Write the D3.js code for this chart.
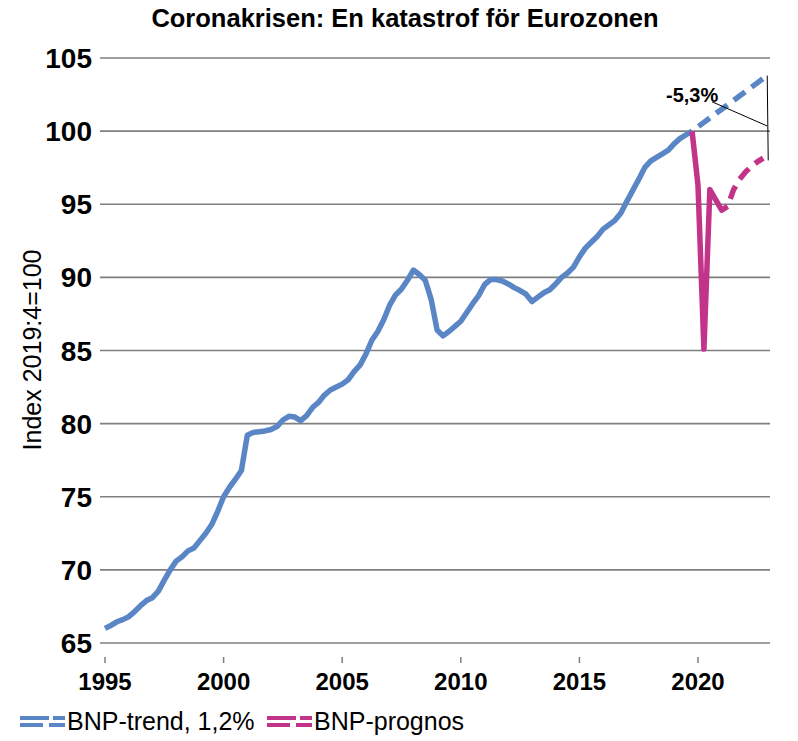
<!DOCTYPE html>
<html>
<head>
<meta charset="utf-8">
<script src="https://cdn.jsdelivr.net/npm/d3@7"></script>
<style>
  body { margin: 0; background: #fff; }
  svg text { font-family: "Liberation Sans", Arial, sans-serif; }
</style>
</head>
<body>
<div id="viz-body"></div>
<script>
// quarterly index, 1995Q1 .. 2019Q4 (2019:4 = 100)
const bnpHistory = [
    66.0, 66.2, 66.45, 66.6, 66.8, 67.15, 67.55, 67.9, 68.1, 68.55,
    69.3, 70.0, 70.6, 70.9, 71.3, 71.5, 72.0, 72.5, 73.1, 74.0,
    75.0, 75.65, 76.2, 76.8, 79.2, 79.4, 79.45, 79.5, 79.6, 79.8,
    80.25, 80.5, 80.45, 80.2, 80.55, 81.1, 81.45, 81.95, 82.3, 82.5,
    82.7, 83.0, 83.55, 84.0, 84.75, 85.7, 86.3, 87.1, 88.1, 88.8,
    89.2, 89.8, 90.5, 90.2, 89.8, 88.5, 86.4, 86.0, 86.3, 86.65,
    87.0, 87.6, 88.2, 88.75, 89.5, 89.85, 89.85, 89.75, 89.55, 89.3,
    89.1, 88.85, 88.35, 88.65, 88.95, 89.15, 89.55, 90.0, 90.3, 90.7,
    91.4, 92.0, 92.4, 92.8, 93.3, 93.6, 93.9, 94.4, 95.2, 95.95,
    96.7, 97.5, 97.95, 98.2, 98.45, 98.7, 99.15, 99.5, 99.75, 100.0
];
// 2019Q4 .. 2022Q4
const bnpTrend = [100.0, 100.3, 100.6, 100.9, 101.2, 101.5, 101.8, 102.1, 102.4, 102.7, 103.0, 103.3, 103.6];
// 2019Q4 .. 2021Q2 (outcome)
const prognosSolid = [100.0, 96.3, 85.1, 96.0, 95.3, 94.6, 94.85];
// 2021Q2 .. 2022Q4 (forecast)
const prognosDashed = [94.85, 96.0, 96.7, 97.2, 97.6, 97.9, 98.15];

const yearLabels = ["1995", "2000", "2005", "2010", "2015", "2020"];
const yTicks = [65, 70, 75, 80, 85, 90, 95, 100, 105];
const gapLabel = "-5,3%";
const seriesNames = ["BNP-trend, 1,2%", "BNP-prognos"];

const width = 798, height = 741;
const blue = "#5a86c6", magenta = "#c2338a";

const x = d3.scaleLinear().domain([0, 112]).range([105, 105 + 112 * 5.93]);
const y = d3.scaleLinear().domain([65, 105]).range([643, 58]);

const svg = d3.select("#viz-body").append("svg")
    .attr("width", width).attr("height", height);

// title
svg.append("text")
    .attr("x", 405).attr("y", 27)
    .attr("text-anchor", "middle")
    .attr("font-size", 25.5).attr("font-weight", "bold")
    .text("Coronakrisen: En katastrof för Eurozonen");

// gridlines + y labels
svg.append("g").selectAll("line").data(yTicks).join("line")
    .attr("x1", 100).attr("x2", 770)
    .attr("y1", d => y(d)).attr("y2", d => y(d))
    .attr("stroke", "#7f7f7f").attr("stroke-width", 1.6);

svg.append("g").selectAll("text").data(yTicks).join("text")
    .attr("x", 92).attr("y", d => y(d))
    .attr("dy", "0.36em")
    .attr("text-anchor", "end")
    .attr("font-size", 28).attr("font-weight", "bold")
    .text(d => d);

svg.append("text")
    .attr("transform", "translate(41,350) rotate(-90)")
    .attr("text-anchor", "middle")
    .attr("font-size", 25)
    .text("Index 2019:4=100");

// x ticks + labels
const xg = svg.append("g");
xg.selectAll("line").data(yearLabels).join("line")
    .attr("x1", (d, i) => x(i * 20)).attr("x2", (d, i) => x(i * 20))
    .attr("y1", 657).attr("y2", 663)
    .attr("stroke", "#7f7f7f").attr("stroke-width", 1.5);
xg.selectAll("text").data(yearLabels).join("text")
    .attr("x", (d, i) => x(i * 20)).attr("y", 690)
    .attr("text-anchor", "middle")
    .attr("font-size", 24).attr("font-weight", "bold")
    .text(d => d);

const line = d3.line().x(d => x(d[0])).y(d => y(d[1]));
const hist = bnpHistory.map((v, i) => [i, v]);
const trend = bnpTrend.map((v, i) => [99 + i, v]);
const solid = prognosSolid.map((v, i) => [99 + i, v]);
const dashed = prognosDashed.map((v, i) => [105 + i, v]);

svg.append("path").attr("d", line(trend))
    .attr("fill", "none").attr("stroke", blue).attr("stroke-width", 5.5)
    .attr("stroke-dasharray", "14,8").attr("stroke-dashoffset", 14);
svg.append("path").attr("d", line(hist))
    .attr("fill", "none").attr("stroke", blue).attr("stroke-width", 5.5)
    .attr("stroke-linejoin", "round");
svg.append("path").attr("d", line(dashed))
    .attr("fill", "none").attr("stroke", magenta).attr("stroke-width", 5.5)
    .attr("stroke-dasharray", "14,8").attr("stroke-dashoffset", 14);
svg.append("path").attr("d", line(solid))
    .attr("fill", "none").attr("stroke", magenta).attr("stroke-width", 5.5)
    .attr("stroke-linejoin", "round");

// annotation of gap
const xe = x(111) + 4;
svg.append("line")
    .attr("x1", xe).attr("x2", xe + 1)
    .attr("y1", y(103.8)).attr("y2", y(98.0))
    .attr("stroke", "#000").attr("stroke-width", 1);
svg.append("line")
    .attr("x1", x(102.4)).attr("x2", xe)
    .attr("y1", y(102.0)).attr("y2", y(100.35))
    .attr("stroke", "#000").attr("stroke-width", 1);
svg.append("text")
    .attr("x", x(102.4) + 6).attr("y", y(102.0))
    .attr("text-anchor", "end")
    .attr("font-size", 20).attr("font-weight", "bold")
    .text(gapLabel);

// legend
const legend = svg.append("g");
const legItems = [
    { name: seriesNames[0], color: blue, x0: 20 },
    { name: seriesNames[1], color: magenta, x0: 267 }
];
legItems.forEach(d => {
    legend.append("line")
        .attr("x1", d.x0).attr("x2", d.x0 + 45)
        .attr("y1", 718).attr("y2", 718)
        .attr("stroke", d.color).attr("stroke-width", 4)
        .attr("stroke-dasharray", "29,4,12");
    legend.append("line")
        .attr("x1", d.x0).attr("x2", d.x0 + 45)
        .attr("y1", 725).attr("y2", 725)
        .attr("stroke", d.color).attr("stroke-width", 4)
        .attr("stroke-dasharray", "23,6,16");
    legend.append("text")
        .attr("x", d.x0 + 47).attr("y", 730)
        .attr("font-size", 25)
        .text(d.name);
});
</script>
</body>
</html>
